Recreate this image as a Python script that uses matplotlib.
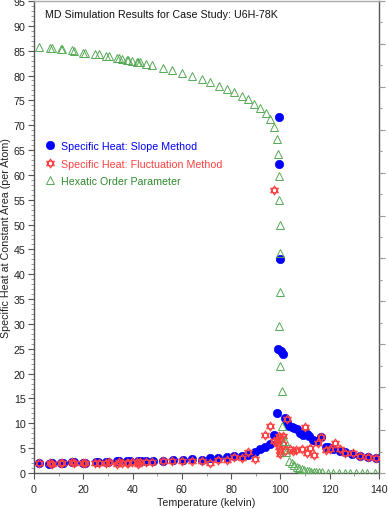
import numpy as np
import matplotlib
matplotlib.use("Agg")
import matplotlib.pyplot as plt
from matplotlib.path import Path
from matplotlib.ticker import MultipleLocator, NullFormatter

plt.rcParams['font.family'] = ['Liberation Sans', 'DejaVu Sans']

# ---------------- data ----------------
title_text = "MD Simulation Results for Case Study: U6H-78K"
xlabel_text = "Temperature (kelvin)"
ylabel_text = "Specific Heat at Constant Area (per Atom)"
legend_labels = ["Specific Heat: Slope Method",
                 "Specific Heat: Fluctuation Method",
                 "Hexatic Order Parameter"]

# Hexatic order parameter (plotted on the left scale)
hex_T = [2.0, 6.5, 7.2, 11.0, 11.5, 15.5, 16.2, 20.0, 20.7, 24.8, 26.4, 29.2, 30.6,
         33.6, 34.3, 35.6, 37.6, 38.3, 39.6, 41.7, 42.4, 43.0, 45.3, 48.0, 52.2,
         56.1, 60.2, 64.1, 68.0, 71.4, 75.1, 78.2, 81.2, 84.3, 87.0, 89.4, 91.7,
         94.0, 95.8, 97.5, 98.5, 99.2, 99.6, 99.6, 99.8, 99.8, 99.8, 99.6, 99.8,
         100.5, 100.8, 101.8, 102.2, 103.6, 104.6, 105.6, 106.6, 107.6, 108.6,
         109.6, 110.6, 111.6, 112.6, 113.6, 114.6, 115.6, 117.0, 119.2, 121.5,
         123.9, 126.2, 128.4, 130.7, 133.0, 135.3, 138.4]
hex_V = [85.8, 85.6, 85.6, 85.4, 85.3, 85.1, 85.0, 84.6, 84.6, 84.4, 84.3, 84.0, 83.9,
         83.6, 83.6, 83.4, 83.1, 83.1, 82.9, 82.8, 82.7, 82.7, 82.4, 82.1, 81.6,
         81.1, 80.6, 80.0, 79.3, 78.7, 77.9, 77.3, 76.6, 75.9, 75.2, 74.2, 73.4,
         72.4, 71.2, 69.7, 67.3, 64.3, 59.8, 55.0, 50.0, 44.2, 36.5, 29.6, 21.5,
         16.6, 9.5, 6.5, 4.2, 2.5, 2.0, 1.6, 1.3, 1.0, 0.8,
         0.6, 0.5, 0.4, 0.3, 0.25, 0.2, 0.15, 0.12, 0.1, 0.1,
         0.1, 0.1, 0.1, 0.1, 0.1, 0.1, 0.1]

# Specific heat, slope method
slope_T = [2.0, 6.2, 6.8, 7.4, 10.8, 11.6, 15.5, 16.2, 20.0, 20.7, 25.2, 25.9, 29.2,
           30.2, 33.6, 34.6, 37.9, 38.9, 42.3, 43.3, 45.5, 48.2, 52.2, 56.3, 60.3,
           64.0, 68.0, 71.4, 74.8, 78.2, 81.2, 84.3, 87.0, 89.7, 91.7, 93.8, 95.8,
           97.4, 98.8, 99.6, 99.6, 99.8, 99.2, 100.1, 100.9, 101.7, 102.6, 103.6,
           104.6, 105.6, 106.6, 108.0, 109.2, 110.7, 111.7, 113.4, 114.5, 116.5,
           118.3, 119.5, 121.5, 124.2, 126.2, 129.1, 132.3, 135.4, 138.8]
slope_V = [1.95, 1.9, 2.0, 1.95, 2.1, 2.1, 2.15, 2.15, 2.1, 2.1, 2.2, 2.15, 2.3,
           2.3, 2.35, 2.35, 2.35, 2.35, 2.4, 2.45, 2.5, 2.4, 2.5, 2.55, 2.6,
           2.75, 2.7, 2.95, 3.0, 3.2, 3.35, 3.5, 3.7, 4.2, 4.8, 5.2, 5.8,
           7.6, 12.1, 71.7, 62.2, 43.1, 24.9, 24.5, 23.9, 11.0, 10.2, 9.5,
           9.3, 9.0, 8.85, 8.0, 7.7, 7.85, 7.4, 6.6, 6.5, 7.2,
           5.3, 5.2, 4.85, 4.5, 4.2, 3.8, 3.5, 3.15, 2.95]

# Specific heat, fluctuation method
fluct_T = [2.0, 6.5, 7.2, 11.0, 11.5, 15.5, 16.2, 20.0, 20.7, 24.8, 26.4, 29.2, 30.6,
           33.6, 34.3, 35.6, 37.6, 38.3, 39.6, 41.7, 42.4, 43.0, 45.3, 48.0, 52.2,
           56.1, 60.2, 64.0, 68.0, 71.4, 74.8, 78.2, 81.2, 84.3, 87.0, 89.7, 93.8,
           95.8, 97.5, 97.4, 98.5, 99.2, 99.6, 99.6, 99.8, 99.8, 99.8, 100.1, 100.9,
           100.9, 101.9, 102.6, 103.9, 105.2, 106.3, 108.6, 109.8, 110.9, 112.2,
           113.5, 115.1, 116.5, 118.5, 120.0, 122.0, 124.2, 126.2, 129.3, 132.3,
           135.4, 138.8]
fluct_V = [2.0, 2.0, 1.9, 2.1, 2.0, 2.2, 2.1, 2.1, 2.0, 2.0, 2.1, 2.0, 2.2,
           1.9, 2.2, 2.1, 2.0, 2.1, 2.2, 2.3, 1.9, 2.2, 2.2, 2.3, 2.5,
           2.4, 2.4, 2.35, 2.35, 2.0, 2.7, 2.7, 3.15, 3.0, 4.3, 2.8, 7.6,
           9.5, 56.9, 6.5, 6.6, 5.8, 7.5, 5.2, 4.5, 3.8, 6.8, 7.0, 7.4,
           5.8, 4.5, 10.9, 4.8, 4.5, 4.7, 4.8, 9.2, 4.1, 5.0,
           3.6, 6.1, 7.2, 4.6, 4.9, 6.1, 4.8, 4.0, 4.0, 3.5,
           3.15, 2.95]

# ---------------- styling ----------------
BLUE = '#0000ff'
RED = '#ff4040'
GREEN = '#55aa55'
SPINE = '#555555'
FS = 7.7

# Star of David marker: two overlapping triangles
ang_up = np.deg2rad([90, 210, 330])
ang_dn = np.deg2rad([270, 30, 150])
verts = []
codes = []
for ang in (ang_up, ang_dn):
    pts = [(np.cos(a), np.sin(a)) for a in ang]
    verts += pts + [pts[0]]
    codes += [Path.MOVETO, Path.LINETO, Path.LINETO, Path.CLOSEPOLY]
hexagram = Path(verts, codes)

fig = plt.figure(figsize=(3.88, 5.10), dpi=100)
ax = fig.add_axes([34/388, 1-474/510, (379-34)/388, (474-2)/510])

ax.plot(slope_T, slope_V, linestyle='none', marker='o', markersize=6.0,
        markerfacecolor=BLUE, markeredgecolor=BLUE, markeredgewidth=0.5,
        label=legend_labels[0], zorder=3)
ax.plot(fluct_T, fluct_V, linestyle='none', marker=hexagram, markersize=6.5,
        markerfacecolor='none', markeredgecolor=RED, markeredgewidth=0.75,
        label=legend_labels[1], zorder=4)
ax.plot(hex_T, hex_V, linestyle='none', marker='^', markersize=5.8,
        markerfacecolor='none', markeredgecolor=GREEN, markeredgewidth=0.7,
        label=legend_labels[2], zorder=5)

ax.set_xlim(0, 140)
ax.set_ylim(0, 95)
ax.xaxis.set_major_locator(MultipleLocator(20))
ax.xaxis.set_minor_locator(MultipleLocator(10))
ax.yaxis.set_major_locator(MultipleLocator(5))
ax.yaxis.set_minor_locator(MultipleLocator(1))
ax.tick_params(axis='both', which='major', direction='out', length=4, width=0.8,
               color=SPINE, labelsize=FS, labelcolor='#222222')
ax.tick_params(axis='x', which='major', pad=4)
ax.tick_params(axis='y', which='major', pad=2)
ax.tick_params(axis='both', which='minor', direction='out', length=2, width=0.6,
               color='#888888')
ax.tick_params(top=False, right=False, which='both')

for s in ('left', 'bottom', 'right'):
    ax.spines[s].set_color(SPINE)
    ax.spines[s].set_linewidth(1.0)
ax.spines['top'].set_color('#aaaaaa')
ax.spines['top'].set_linewidth(1.0)

# right-hand scale (unlabelled ticks)
ax2 = ax.twinx()
ax2.set_ylim(0, 1.1)
ax2.yaxis.set_major_locator(MultipleLocator(0.1))
ax2.yaxis.set_minor_locator(MultipleLocator(0.05))
ax2.yaxis.set_major_formatter(NullFormatter())
ax2.tick_params(axis='y', which='major', direction='out', length=4, width=0.8, color='#999999')
ax2.tick_params(axis='y', which='minor', direction='out', length=2, width=0.8, color='#999999')
for s in ax2.spines.values():
    s.set_visible(False)

ax.set_xlabel(xlabel_text, fontsize=FS, labelpad=2, color='#222222')
ax.set_ylabel(ylabel_text, fontsize=FS, labelpad=2, color='#222222')

ax.text(0.032, 0.983, title_text, transform=ax.transAxes, fontsize=FS,
        ha='left', va='top', color='#111111')

leg = ax.legend(loc='upper left', bbox_to_anchor=(0.034, 0.703), frameon=False,
                fontsize=FS, handlelength=0.8, handletextpad=0.6, labelspacing=0.7,
                borderpad=0.0, borderaxespad=0.0)
for txt, c in zip(leg.get_texts(), [BLUE, RED, '#2e8b2e']):
    txt.set_color(c)

fig.savefig('out.png', dpi=100)
